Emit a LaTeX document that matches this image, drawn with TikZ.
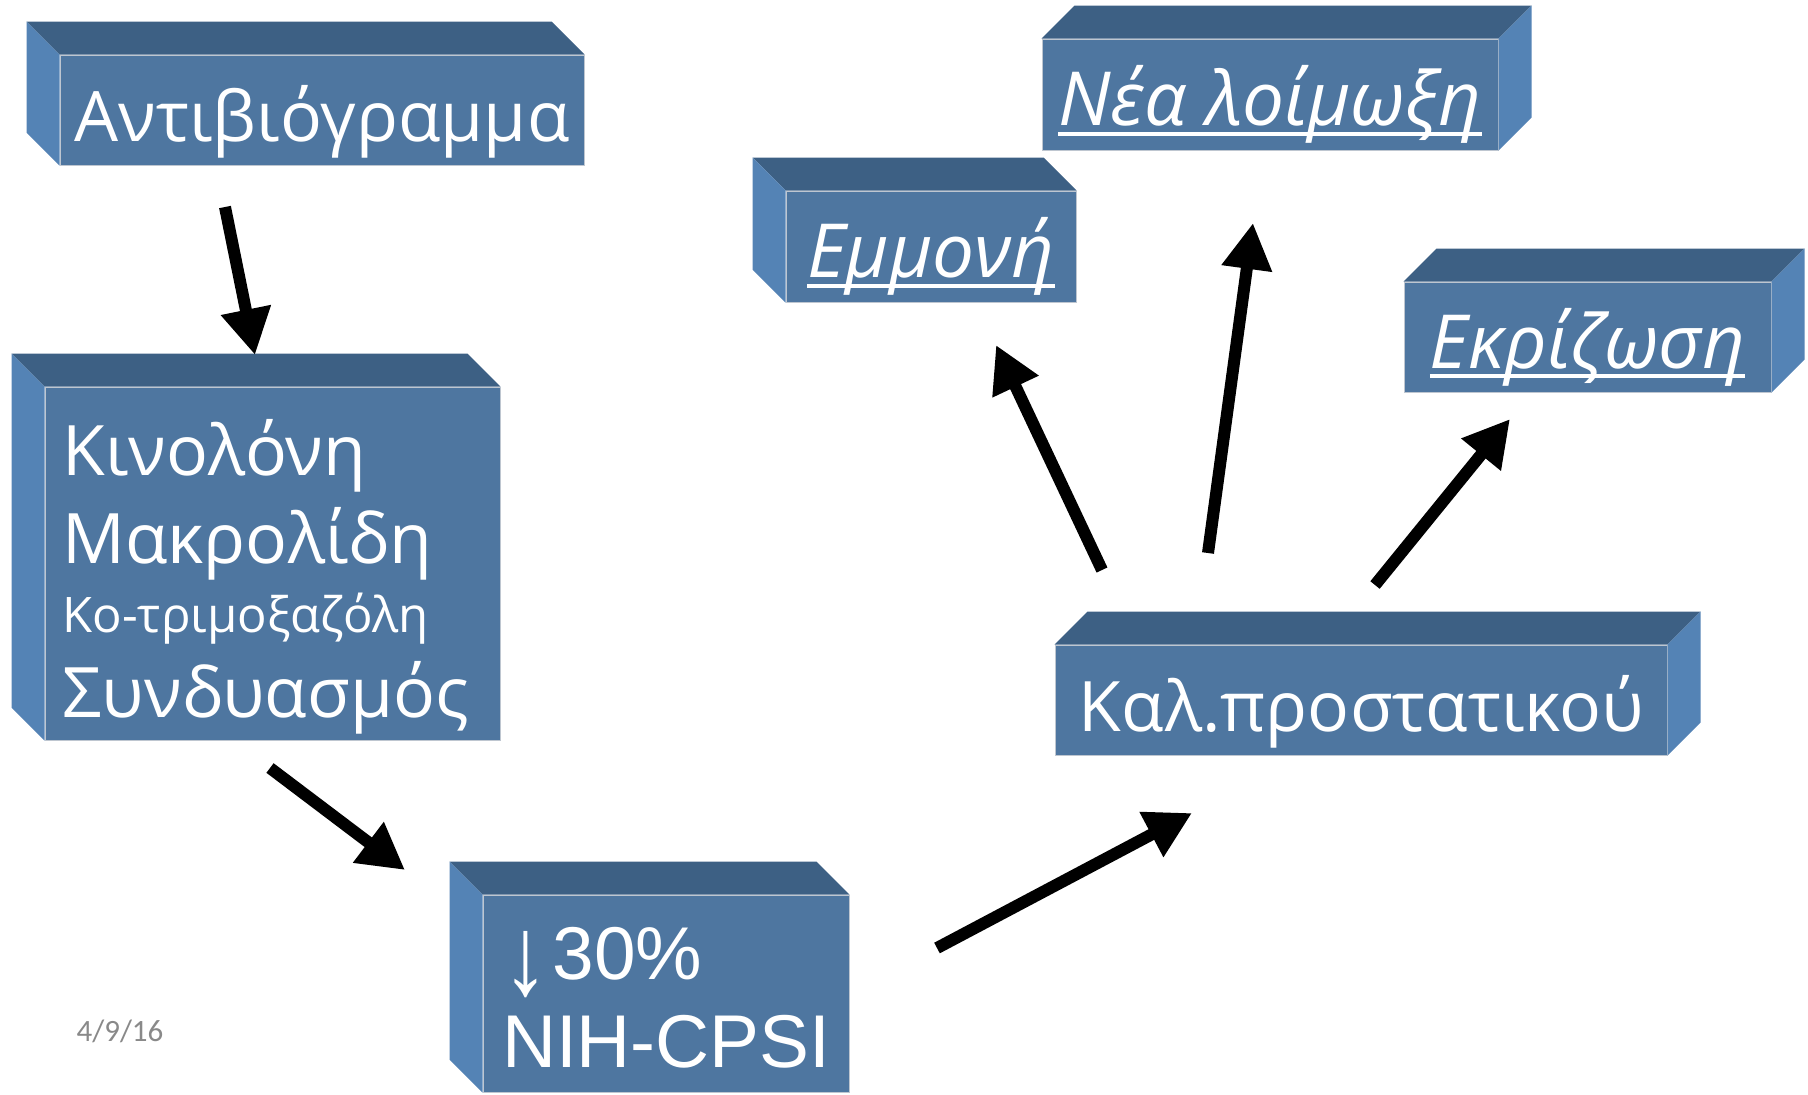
\documentclass[tikz,border=0pt]{standalone}
\usepackage{fontspec}
\setmainfont{Open Sans}
\newfontfamily\arialfont{Liberation Sans}
\newfontfamily\datefont{Carlito}
\usetikzlibrary{arrows.meta}
\definecolor{boxfront}{RGB}{78,118,160}
\definecolor{boxtop}{RGB}{61,96,132}
\definecolor{boxside}{RGB}{84,131,181}
\definecolor{boxedge}{RGB}{190,198,208}
\definecolor{dategray}{RGB}{137,137,137}
\newcommand\ulnk[1]{\setbox0\hbox{#1}\rlap{\rule[-5pt]{\wd0}{2pt}}\box0}

\begin{document}
\begin{tikzpicture}[x=0.5pt, y=-0.5pt,
      box/.style={fill=boxfront, draw=boxedge, line width=0.5pt, inner sep=0pt, text=white,
                  font=\fontsize{34.8}{44}\selectfont},
      oneline/.style={box, text height=31pt, text depth=0pt},
      link/.style={oneline, font=\fontsize{37.3}{44}\selectfont\itshape},
      topface/.style={fill=boxtop},
      sideface/.style={fill=boxside},
      arr/.style={line width=6pt, -{Triangle[length=23pt,width=24pt]}}]

   \useasboundingbox (0,0) rectangle (1808,1094);

   % front faces
   \node[oneline, minimum width=262pt, minimum height=55pt] (anti) at (322,110) {Αντιβιόγραμμα};
   \node[box, minimum width=227.5pt, minimum height=176.5pt, text width=210pt, align=left] (kino) at (272.5,563.5)
      {\rule{0pt}{41pt}Κινολόνη\\Μακρολίδη\\[-9.5pt]{\fontsize{24.5}{44}\selectfont Κο-τριμοξαζόλη}\\[-1.5pt]Συνδυασμός};
   \node[box, minimum width=183pt, minimum height=98.5pt, text width=164pt, align=left,
         font=\arialfont\fontsize{37.4}{44}\selectfont] (nih) at (666,993.5)
      {\rule{0pt}{30pt}\mbox{\raisebox{-0.2em}{\scalebox{1.25}[1.5]{↓}}\hspace{2pt}30\%}\\\mbox{NIH-CPSI}};
   \node[link, minimum width=145pt, minimum height=55.5pt] (emmoni) at (931,246.5) {\ulnk{Εμμονή}};
   \node[link, minimum width=228pt, minimum height=55.5pt] (nea) at (1270,94.5) {\ulnk{Νέα λοίμωξη}};
   \node[link, minimum width=183.5pt, minimum height=55pt] (ekriz) at (1587.5,337) {\ulnk{Εκρίζωση}};
   \node[oneline, minimum width=306pt, minimum height=55pt] (kal) at (1361,700) {Καλ.προστατικού};

   % top and side faces
   \foreach \n/\s/\dx in {anti/west/-33, kino/west/-33, nih/west/-33, emmoni/west/-33,
                          nea/east/33, ekriz/east/33, kal/east/33} {
      \fill[topface] (\n.north west) -- ++(\dx,-33) -- ([shift={(\dx,-33)}]\n.north east) -- (\n.north east) -- cycle;
      \fill[sideface] (\n.north \s) -- ++(\dx,-33) -- ([shift={(\dx,-33)}]\n.south \s) -- (\n.south \s) -- cycle;
   }

   % arrows
   \coordinate (a1s) at (225,207);   \coordinate (a1e) at (255,355);
   \coordinate (a2s) at (270,768);   \coordinate (a2e) at (405,870);
   \coordinate (a3s) at (937,948);   \coordinate (a3e) at (1192,813);
   \coordinate (a4s) at (1102,570);  \coordinate (a4e) at (996,345);
   \coordinate (a5s) at (1208,553);  \coordinate (a5e) at (1253,223);
   \coordinate (a6s) at (1375,585);  \coordinate (a6e) at (1510,419);
   \foreach \i in {1,...,6}
      \draw[arr] (a\i s) -- (a\i e);

   \node[font=\datefont\fontsize{15.5}{18}\selectfont, text=dategray] (date) at (120,1031) {4/9/16};
\end{tikzpicture}
\end{document}
